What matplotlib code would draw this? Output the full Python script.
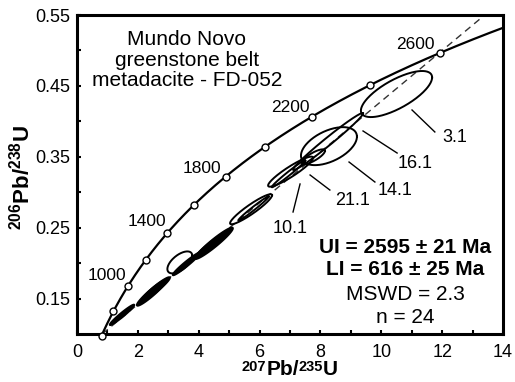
import numpy as np
import matplotlib.pyplot as plt
from matplotlib.offsetbox import TextArea, HPacker, AnnotationBbox

plt.rcParams['font.family'] = ['Liberation Sans', 'DejaVu Sans']
plt.rcParams['mathtext.fontset'] = 'custom'
plt.rcParams['mathtext.rm'] = 'Liberation Sans'
plt.rcParams['mathtext.bf'] = 'Liberation Sans:bold'

# decay constants (1/yr)
L238 = 1.55125e-10
L235 = 9.8485e-10

# concordia age marks (Ma)
marker_ages = [600, 800, 1000, 1200, 1400, 1600, 1800, 2000, 2200, 2400, 2600]
label_ages = ["1000", "1400", "1800", "2200", "2600"]
label_x = [0.99, 2.30, 4.11, 7.00, 11.11]
label_y = [0.182, 0.258, 0.334, 0.420, 0.508]

# discordia intercepts (Ma)
lower_int = 616
upper_int = 2595

# error ellipses: 207/235 x, sx, 206/238 y, sy, rho
ell_x = [1.48, 2.45, 2.60, 3.60, 4.50, 4.35, 3.38, 5.72, 5.80, 7.02, 6.95, 7.77, 8.28, 8.25, 10.50]
ell_sx = [0.40, 0.48, 0.45, 0.45, 0.62, 0.50, 0.41, 0.69, 0.50, 0.74, 0.55, 0.38, 0.92, 1.15, 1.17]
ell_y = [0.127, 0.158, 0.164, 0.199, 0.228, 0.224, 0.201, 0.276, 0.277, 0.329, 0.326, 0.350, 0.365, 0.3715, 0.4385]
ell_sy = [0.0143, 0.018, 0.016, 0.016, 0.022, 0.018, 0.0155, 0.0212, 0.017, 0.0212, 0.019, 0.0105, 0.0268, 0.0402, 0.0325]
ell_rho = [0.97, 0.95, 0.95, 0.97, 0.955, 0.97, 0.6, 0.93, 0.985, 0.92, 0.985, 0.8, 0.5, 0.985, 0.72]
ell_fill = [True, True, True, True, True, True, False, False, False, False, False, False, False, False, False]

# spot labels and leader lines
spot_names = ["3.1", "16.1", "14.1", "21.1", "10.1"]
spot_tx = [12.42, 11.11, 10.45, 9.07, 7.00]
spot_ty = [0.3765, 0.3412, 0.3031, 0.289, 0.2495]
lead_x0 = [11.01, 9.40, 8.94, 7.66, 7.33]
lead_y0 = [0.416, 0.3864, 0.3426, 0.3243, 0.3116]
lead_x1 = [11.76, 10.52, 9.79, 8.31, 7.10]
lead_y1 = [0.385, 0.3553, 0.3144, 0.3031, 0.2721]


def concordia(age_ma):
    t = np.asarray(age_ma, dtype=float) * 1e6
    return np.exp(L235 * t) - 1, np.exp(L238 * t) - 1


fig = plt.figure(figsize=(5.15, 3.82), dpi=100)
ax = fig.add_axes([77 / 515, 1 - 334 / 382, 426 / 515, 319 / 382])

# concordia curve
cx, cy = concordia(np.linspace(550, 2800, 400))
ax.plot(cx, cy, color='black', lw=1.6, zorder=3)
mx, my = concordia(marker_ages)
ax.plot(mx, my, 'o', ms=5, mfc='white', mec='black', mew=1.0, zorder=4, clip_on=False)
for s, x, y in zip(label_ages, label_x, label_y):
    ax.text(x, y, s, fontsize=12.5, ha='center', va='center')

# discordia
x0, y0 = concordia(lower_int)
x1, y1 = concordia(upper_int)
slope = (y1 - y0) / (x1 - x0)
dx = np.array([x0, 14.5])
ax.plot(dx, y0 + slope * (dx - x0), color='#333333', lw=1.0, ls=(0, (5, 3.5)), zorder=2)

# ellipses
th = np.linspace(0, 2 * np.pi, 200)
for x, sx, y, sy, r, f in zip(ell_x, ell_sx, ell_y, ell_sy, ell_rho, ell_fill):
    ex = x + sx * np.cos(th)
    ey = y + sy * (r * np.cos(th) + np.sqrt(1 - r ** 2) * np.sin(th))
    if f:
        ax.fill(ex, ey, color='black', lw=1.5, zorder=3)
    else:
        ax.plot(ex, ey, color='black', lw=1.4, zorder=3)

for i in range(len(spot_names)):
    ax.plot([lead_x0[i], lead_x1[i]], [lead_y0[i], lead_y1[i]], color='black', lw=1.0)
    ax.text(spot_tx[i], spot_ty[i], spot_names[i], fontsize=13, ha='center', va='center')

# sample name and results
ax.text(3.61, 0.4865, "Mundo Novo\ngreenstone belt\nmetadacite - FD-052",
        fontsize=15, ha='center', va='center', linespacing=1.1)
ax.text(10.78, 0.2227, "UI = 2595 ± 21 Ma", fontsize=15, fontweight='bold', ha='center', va='center')
ax.text(10.78, 0.1903, "LI = 616 ± 25 Ma", fontsize=15, fontweight='bold', ha='center', va='center')
ax.text(10.78, 0.1564, "MSWD = 2.3", fontsize=15, ha='center', va='center')
ax.text(10.78, 0.1226, "n = 24", fontsize=15, ha='center', va='center')

ax.set_xlim(0, 14)
ax.set_ylim(0.1, 0.55)
ax.set_xticks(np.arange(0, 15, 2))
ax.set_xticks(np.arange(1, 14, 2), minor=True)
ax.set_yticks([0.15, 0.25, 0.35, 0.45, 0.55])
ax.set_yticks([0.2, 0.3, 0.4, 0.5], minor=True)
ax.set_yticklabels(["0.15", "0.25", "0.35", "0.45", "0.55"])
ax.tick_params(which='both', direction='in', length=3, width=1.5, labelsize=13)
ax.tick_params(axis='x', pad=7)
ax.tick_params(axis='y', pad=5)
for sp in ax.spines.values():
    sp.set_linewidth(2.2)

# x label: small raised isotope masses, built from pieces
big = dict(fontsize=15, fontweight='bold')
small = dict(fontsize=10.5, fontweight='bold')
xlab = HPacker(children=[TextArea("207", textprops=small), TextArea("Pb/", textprops=big),
                         TextArea("235", textprops=small), TextArea("U", textprops=big)],
               align='top', pad=0, sep=0)
ab = AnnotationBbox(xlab, (290 / 515, 1 - 360 / 382), xycoords='figure fraction',
                    box_alignment=(0.5, 1.0), frameon=False, pad=0)
fig.add_artist(ab)

fig.text(22 / 515, 1 - 178 / 382, r'$^{\mathbf{206}}\mathbf{Pb/}^{\mathbf{238}}\mathbf{U}$',
         fontsize=16, ha='center', va='center', rotation=90)

fig.savefig('out.png', dpi=100)
